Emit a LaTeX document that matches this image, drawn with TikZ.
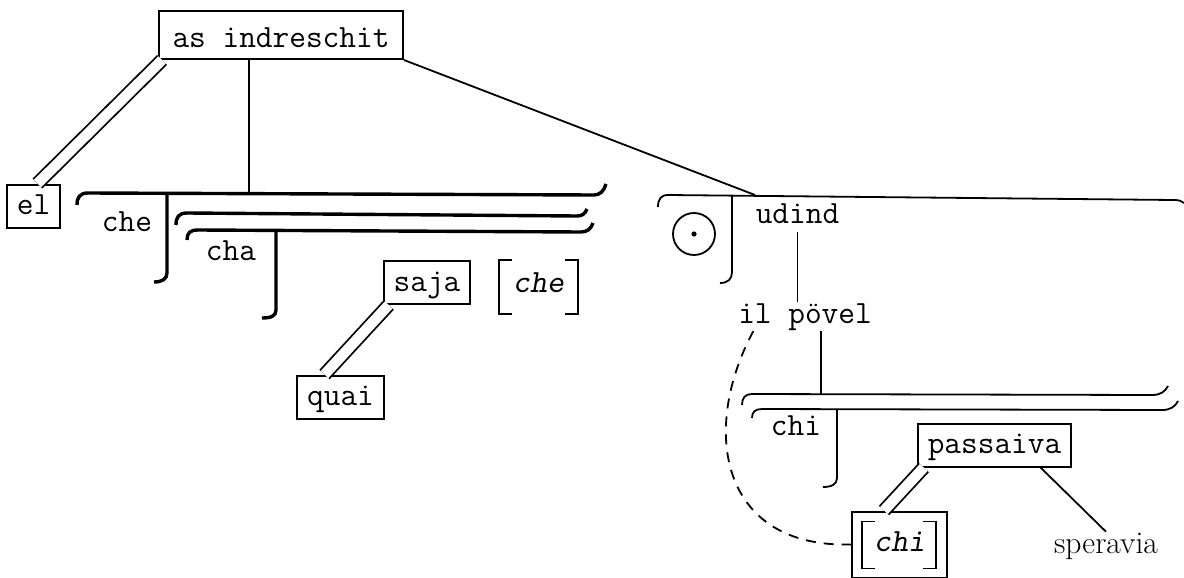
\documentclass[tikz,border=0pt]{standalone}
\usepackage{fontspec}
\usepackage{tikz}
\newcommand{\wordfont}{\ttfamily\fontsize{16.2}{19}\selectfont}

\begin{document}
\begin{tikzpicture}[x=0.5pt, y=-0.5pt, line width=0.9pt,
    word/.style={font=\wordfont, inner sep=0pt},
    wbox/.style={draw, line width=1pt, font=\wordfont, inner xsep=5pt, inner ysep=3pt, text height=12pt, text depth=3.5pt},
    dbl/.style={double, double distance=5.2pt},
    heavy/.style={line width=1.7pt}]
  \useasboundingbox (0,0) rectangle (1184,578);
  % boxed words
  \node[wbox, text height=15pt, text depth=3pt, inner xsep=6.75pt] (top) at (281,35) {as indreschit};
  \node[wbox] (el) at (33.5,206) {el};
  \node[wbox] (saja) at (427,282.5) {saja};
  \node[wbox] (quai) at (340.5,397) {quai};
  \node[wbox] (passaiva) at (994.5,445) {passaiva};
  \node[wbox, font=\wordfont\slshape, minimum width=47.5pt, inner xsep=5.75pt, inner ysep=5.5pt,
        text height=14.5pt, text depth=7.5pt] (chibox) at (899.5,544.5) {chi};
  \draw ([shift={(24,11)}]chibox.north west) -- ++(-13,0) -- ([shift={(11,-10)}]chibox.south west) -- ++(13,0);
  \draw ([shift={(-25,11)}]chibox.north east) -- ++(13,0) -- ([shift={(-12,-10)}]chibox.south east) -- ++(-13,0);
  \node[word, font=\wordfont\slshape, minimum width=38.5pt, text height=15.5pt, text depth=10.5pt] (che2) at (538.5,287) {che};
  \draw ([xshift=6.5pt]che2.north west) -- (che2.north west) -- (che2.south west) -- ++(13,0);
  \draw ([xshift=-6.5pt]che2.north east) -- (che2.north east) -- (che2.south east) -- ++(-13,0);
  % plain words
  \node[word, anchor=base] (che) at (127,231) {che};
  \node[word, anchor=base] (cha) at (231,260) {cha};
  \node[word, anchor=base] (udind) at (797.5,223) {udind};
  \node[word, anchor=base] (ilp) at (805,323) {il pövel};
  \node[word, anchor=base] (chi) at (796,435) {chi};
  \node[word, anchor=base, font=\rmfamily\fontsize{15.8}{18}\selectfont] (spv) at (1106,553) {speravia};
  \node[circle, draw, minimum size=21pt, inner sep=0pt] (sun) at (694,234) {};
  \fill (sun.center) circle (1.3pt);
  % junctions
  \coordinate (j1) at (249,193);
  \coordinate (j2) at (755,195);
  \coordinate (jp) at (821,394);
  % che / cha
  \draw[heavy] (77,205) .. controls (77,197) and (80,193) .. (88,193) -- (594,195) .. controls (600,195) and (604,191) .. (606,184);
  \draw[heavy] (167,193) -- (167,273) .. controls (167,279) and (162,282) .. (154,282);
  \draw[heavy] (176,225) .. controls (176,217) and (179,213) .. (187,213) -- (577,216) .. controls (582,216) and (585,214) .. (587,209);
  \draw[heavy] (187,240) .. controls (187,233) and (190,230) .. (198,230) -- (581,232) .. controls (587,232) and (591,229) .. (593,223);
  \draw[heavy] (276,230) -- (276,310) .. controls (276,316) and (271,318) .. (262,318);
  % udind
  \draw (658,207) .. controls (658,199) and (661,195) .. (668,195) -- (1174,200) .. controls (1179,200) and (1182,201) .. (1184,203);
  \draw (732,195) -- (732,272) .. controls (732,279) and (728,283) .. (720,283);
  % chi / passaiva
  \draw (742,405) .. controls (742,398) and (745,394) .. (752,394) -- (1152,395) .. controls (1160,395) and (1165,392) .. (1168,386);
  \draw (752,418) .. controls (752,412) and (755,409) .. (762,409) -- (1162,410) .. controls (1170,410) and (1175,407) .. (1178,401);
  \draw (837,409) -- (837,478) .. controls (837,484) and (832,487) .. (823,487);
  % connectors
  \draw (top.south -| j1) -- (j1);
  \draw (top.south east) -- (j2);
  \draw[dbl] ([xshift=2pt]top.south west) -- ([xshift=2pt]el.north);
  \draw[dbl] ([xshift=3pt]saja.south west) -- ([xshift=-8pt]quai.north);
  \draw[dbl] ([xshift=3.5pt]passaiva.south west) -- ([xshift=-7.75pt]chibox.north);
  \draw ([xshift=23pt]passaiva.south) -- (spv.north);
  \draw ([yshift=-4pt]udind.south) -- (udind.south |- ilp.north);
  \draw (ilp.south -| jp) -- (jp);
  \draw[dash pattern=on 5pt off 4pt] ([xshift=8pt]ilp.south west) .. controls (700,430) and (720,548) .. (chibox.west);
\end{tikzpicture}
\end{document}
